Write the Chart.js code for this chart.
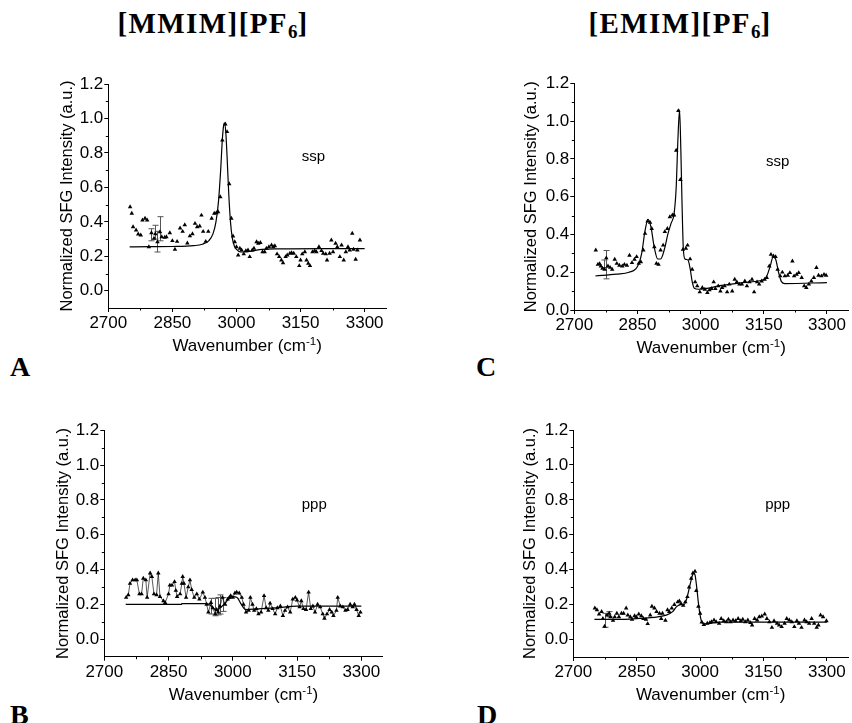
<!DOCTYPE html>
<html><head><meta charset="utf-8">
<script src="https://cdn.jsdelivr.net/npm/chart.js@4.4.1/dist/chart.umd.min.js"></script>
<style>
html,body{margin:0;padding:0;background:#fff;}
body{width:852px;height:723px;position:relative;overflow:hidden;}
canvas{position:absolute;}
.hd{position:absolute;font-family:"Liberation Serif","Times New Roman",serif;font-weight:bold;font-size:29px;letter-spacing:1.4px;color:#000;white-space:nowrap;line-height:1;text-align:center;}
.hd sub{font-size:19px;vertical-align:-5px;line-height:0;letter-spacing:0;}
.lt{position:absolute;font-family:"Liberation Serif","Times New Roman",serif;font-weight:bold;font-size:28px;line-height:1;color:#000;}
</style></head><body>
<div class="hd" style="left:0;width:426px;top:9px">[MMIM][PF<sub>6</sub>]</div>
<div class="hd" style="left:554px;width:252px;top:9px">[EMIM][PF<sub>6</sub>]</div>
<div class="lt" style="left:10px;top:353px">A</div>
<div class="lt" style="left:476px;top:353px">C</div>
<div class="lt" style="left:10px;top:701px">B</div>
<div class="lt" style="left:477px;top:701px">D</div>
<canvas id="cA" width="400" height="300" style="left:0;top:60px"></canvas>
<canvas id="cB" width="400" height="318" style="left:0;top:405px"></canvas>
<canvas id="cC" width="422" height="300" style="left:430px;top:60px"></canvas>
<canvas id="cD" width="422" height="318" style="left:430px;top:405px"></canvas>
<script>
// ---------- tick labels ----------
const X_TICKS = [2700, 2850, 3000, 3150, 3300];
const X_MINOR = [2775, 2925, 3075, 3225];
const Y_TICKS = [0.0, 0.2, 0.4, 0.6, 0.8, 1.0, 1.2];
const Y_MINOR = [-0.1, 0.1, 0.3, 0.5, 0.7, 0.9, 1.1];

// ---------- Panel A: [MMIM][PF6] ssp ----------
const A_X = [2751,2755,2758,2765,2770,2776,2780,2786,2791,2795,2801,2807,2810,2815,2821,2825,2832,2836,2844,2850,2856,2861,2868,2874,2879,2885,2891,2897,2903,2908,2914,2918,2922,2928,2934,2942,2948,2953,2957,2962,2967,2974,2978,2983,2988,2992,2996,3000,3004,3008,3012,3017,3022,3027,3031,3037,3041,3047,3051,3056,3061,3066,3070,3076,3082,3086,3090,3095,3100,3105,3109,3115,3119,3125,3129,3134,3140,3147,3150,3154,3160,3164,3168,3172,3178,3183,3187,3193,3199,3203,3209,3212,3218,3222,3226,3232,3236,3242,3246,3251,3256,3261,3265,3271,3274,3279,3283,3289];
const A_Y = [0.487,0.449,0.371,0.352,0.329,0.323,0.41,0.42,0.41,0.255,0.336,0.304,0.33,0.284,0.342,0.313,0.31,0.313,0.336,0.29,0.24,0.286,0.363,0.344,0.382,0.276,0.318,0.33,0.39,0.371,0.375,0.438,0.344,0.286,0.344,0.42,0.449,0.452,0.458,0.545,0.874,0.967,0.923,0.62,0.42,0.317,0.284,0.255,0.207,0.246,0.236,0.213,0.232,0.236,0.197,0.236,0.246,0.284,0.275,0.279,0.226,0.226,0.246,0.255,0.265,0.255,0.26,0.213,0.197,0.178,0.162,0.197,0.207,0.217,0.22,0.217,0.197,0.145,0.178,0.213,0.226,0.178,0.159,0.145,0.226,0.232,0.226,0.255,0.232,0.217,0.213,0.178,0.217,0.294,0.226,0.275,0.255,0.197,0.265,0.178,0.226,0.255,0.236,0.333,0.24,0.182,0.236,0.294];
const A_FIT_X = [2750,2800,2850,2900,2920,2935,2945,2952,2958,2963,2967,2970,2972,2975,2978,2982,2986,2990,2995,3000,3010,3020,3035,3060,3100,3200,3300];
const A_FIT_Y = [0.255,0.256,0.257,0.262,0.27,0.29,0.33,0.40,0.52,0.70,0.88,0.96,0.975,0.92,0.78,0.56,0.40,0.31,0.26,0.24,0.225,0.225,0.23,0.24,0.243,0.245,0.245];
const A_ERR_X = [2800, 2809, 2815, 2821];
const A_ERR_Y = [0.325, 0.34, 0.285, 0.36];
const A_ERR_E = [0.035, 0.04, 0.06, 0.07];

// ---------- Panel B: [MMIM][PF6] ppp ----------
const B_X = [2751,2756,2760,2766,2772,2776,2782,2787,2791,2797,2800,2807,2811,2816,2822,2826,2830,2838,2842,2850,2853,2858,2864,2867,2870,2877,2881,2883,2886,2891,2896,2900,2904,2910,2916,2922,2930,2935,2939,2943,2949,2953,2959,2962,2966,2970,2976,2982,2988,2992,2995,3000,3005,3009,3015,3021,3025,3031,3037,3041,3046,3050,3055,3060,3066,3073,3078,3083,3087,3093,3099,3104,3111,3117,3122,3128,3134,3140,3146,3150,3156,3160,3165,3171,3177,3182,3187,3192,3198,3204,3210,3214,3220,3226,3231,3235,3242,3245,3251,3257,3263,3268,3274,3280,3284,3289,3294,3298];
const B_Y = [0.24,0.255,0.32,0.34,0.34,0.34,0.26,0.26,0.35,0.34,0.24,0.38,0.36,0.26,0.255,0.38,0.245,0.22,0.21,0.26,0.31,0.31,0.33,0.28,0.245,0.26,0.32,0.36,0.32,0.24,0.30,0.34,0.285,0.24,0.26,0.23,0.27,0.24,0.20,0.155,0.21,0.18,0.145,0.17,0.155,0.19,0.24,0.20,0.23,0.24,0.25,0.24,0.265,0.27,0.265,0.24,0.20,0.155,0.165,0.24,0.20,0.165,0.175,0.145,0.155,0.25,0.18,0.165,0.207,0.175,0.145,0.18,0.19,0.135,0.165,0.185,0.155,0.23,0.24,0.225,0.185,0.22,0.175,0.17,0.27,0.175,0.19,0.155,0.20,0.185,0.145,0.12,0.145,0.17,0.155,0.135,0.165,0.24,0.19,0.185,0.165,0.17,0.20,0.185,0.20,0.17,0.135,0.155];
const B_FIT_X = [2750,2880,2881,2940,2950,2960,2975,2990,3000,3010,3020,3030,3060,3100,3150,3300];
const B_FIT_Y = [0.20,0.20,0.205,0.205,0.19,0.17,0.19,0.23,0.245,0.24,0.20,0.17,0.175,0.18,0.19,0.19];
const B_ERR_X = [2950, 2958, 2966, 2970, 2978];
const B_ERR_Y = [0.19, 0.185, 0.19, 0.20, 0.20];
const B_ERR_E = [0.045, 0.05, 0.05, 0.055, 0.04];

// ---------- Panel C: [EMIM][PF6] ssp ----------
const C_X = [2751,2756,2760,2763,2767,2772,2776,2780,2785,2790,2796,2801,2807,2814,2819,2825,2831,2837,2843,2848,2853,2858,2864,2868,2874,2880,2884,2890,2895,2900,2905,2911,2915,2921,2927,2933,2937,2942,2947,2952,2958,2965,2969,2975,2980,2987,2992,2998,3004,3010,3016,3021,3026,3031,3035,3042,3047,3051,3057,3063,3068,3075,3081,3086,3092,3098,3105,3110,3116,3122,3127,3134,3139,3145,3152,3157,3163,3167,3173,3178,3183,3189,3194,3200,3207,3212,3218,3222,3228,3233,3240,3246,3251,3257,3263,3269,3275,3280,3287,3293,3298];
const C_Y = [0.317,0.241,0.245,0.232,0.22,0.215,0.275,0.232,0.225,0.215,0.268,0.246,0.236,0.232,0.241,0.236,0.289,0.25,0.268,0.282,0.246,0.255,0.317,0.405,0.47,0.463,0.431,0.334,0.246,0.241,0.317,0.343,0.414,0.431,0.493,0.502,0.502,0.845,1.055,0.69,0.32,0.326,0.343,0.27,0.215,0.148,0.127,0.095,0.118,0.109,0.092,0.106,0.113,0.148,0.113,0.127,0.1,0.118,0.127,0.095,0.136,0.1,0.162,0.148,0.136,0.136,0.153,0.127,0.148,0.162,0.095,0.148,0.136,0.153,0.162,0.171,0.232,0.294,0.285,0.282,0.215,0.18,0.2,0.18,0.183,0.197,0.259,0.18,0.188,0.197,0.171,0.127,0.118,0.136,0.153,0.171,0.224,0.183,0.18,0.188,0.183];
const C_FIT_X = [2750,2800,2830,2850,2860,2868,2875,2882,2890,2898,2905,2915,2922,2930,2937,2942,2946,2950,2953,2956,2959,2963,2970,2975,2980,2985,2995,3050,3100,3140,3155,3165,3172,3178,3185,3192,3200,3300];
const C_FIT_Y = [0.18,0.19,0.20,0.23,0.30,0.42,0.48,0.44,0.33,0.27,0.27,0.33,0.40,0.46,0.51,0.65,0.90,1.06,0.85,0.55,0.32,0.27,0.265,0.22,0.15,0.115,0.11,0.13,0.145,0.155,0.17,0.23,0.28,0.27,0.20,0.15,0.14,0.145];
const C_ERR_X = [2770, 2776];
const C_ERR_Y = [0.245, 0.24];
const C_ERR_E = [0.02, 0.075];

// ---------- Panel D: [EMIM][PF6] ppp ----------
const D_X = [2751,2756,2761,2767,2770,2774,2780,2785,2788,2794,2798,2803,2808,2814,2819,2825,2829,2835,2839,2845,2849,2855,2861,2866,2872,2876,2882,2886,2892,2897,2904,2908,2911,2918,2923,2927,2933,2939,2947,2951,2955,2960,2965,2970,2974,2979,2983,2988,2991,2996,3000,3004,3009,3017,3023,3027,3033,3038,3045,3050,3056,3062,3067,3072,3078,3084,3090,3096,3101,3107,3113,3119,3123,3129,3135,3140,3146,3153,3158,3164,3170,3175,3182,3187,3193,3200,3205,3211,3217,3223,3229,3234,3240,3247,3252,3258,3264,3270,3276,3280,3285,3291,3299];
const D_Y = [0.18,0.17,0.145,0.16,0.12,0.075,0.14,0.15,0.13,0.11,0.13,0.15,0.13,0.15,0.15,0.18,0.14,0.13,0.115,0.135,0.13,0.145,0.135,0.12,0.115,0.09,0.14,0.19,0.18,0.16,0.15,0.12,0.15,0.11,0.17,0.16,0.18,0.20,0.215,0.22,0.205,0.195,0.215,0.245,0.30,0.35,0.38,0.39,0.28,0.19,0.15,0.10,0.085,0.092,0.096,0.101,0.111,0.101,0.092,0.12,0.107,0.101,0.115,0.101,0.111,0.107,0.12,0.107,0.115,0.101,0.111,0.096,0.082,0.12,0.111,0.13,0.134,0.145,0.12,0.101,0.069,0.107,0.092,0.082,0.073,0.092,0.12,0.111,0.101,0.073,0.107,0.092,0.069,0.111,0.101,0.092,0.12,0.092,0.069,0.082,0.14,0.13,0.107];
const D_FIT_X = [2750,2800,2850,2900,2920,2935,2945,2955,2962,2968,2975,2981,2985,2988,2992,2996,3000,3005,3010,3050,3150,3300];
const D_FIT_Y = [0.115,0.115,0.12,0.13,0.14,0.16,0.19,0.20,0.20,0.23,0.30,0.36,0.38,0.37,0.30,0.21,0.14,0.095,0.09,0.10,0.10,0.10];
const D_ERR_X = [2774, 2785];
const D_ERR_Y = [0.11, 0.145];
const D_ERR_E = [0.04, 0.015];

Chart.defaults.font.family = '"Liberation Sans", Arial, Helvetica, sans-serif';
Chart.defaults.color = '#000';

const extras = {
  id: 'extras',
  beforeDatasetsDraw(chart, args, o) {
    const {ctx, scales: {x, y}} = chart;
    ctx.save();
    ctx.strokeStyle = '#555';
    ctx.lineWidth = 1;
    ctx.beginPath();
    o.errX.forEach((v, i) => {
      const px = Math.round(x.getPixelForValue(v)) + 0.5;
      const top = y.getPixelForValue(o.errY[i] + o.errE[i]);
      const bot = y.getPixelForValue(o.errY[i] - o.errE[i]);
      ctx.moveTo(px, top); ctx.lineTo(px, bot);
      ctx.moveTo(px - 3, top); ctx.lineTo(px + 3, top);
      ctx.moveTo(px - 3, bot); ctx.lineTo(px + 3, bot);
    });
    ctx.stroke();
    ctx.restore();
  },
  afterDraw(chart, args, o) {
    const {ctx, chartArea: ca, scales: {x, y}} = chart;
    ctx.save();
    ctx.strokeStyle = '#000';
    ctx.lineWidth = 1;
    ctx.beginPath();
    X_MINOR.forEach(v => {
      const px = Math.round(x.getPixelForValue(v)) + 0.5;
      ctx.moveTo(px, ca.bottom); ctx.lineTo(px, ca.bottom + 2.5);
    });
    Y_MINOR.filter(v => v > y.min).forEach(v => {
      const py = Math.round(y.getPixelForValue(v)) + 0.5;
      ctx.moveTo(ca.left, py); ctx.lineTo(ca.left - 2.5, py);
    });
    ctx.stroke();
    // polarization label
    ctx.fillStyle = '#000';
    ctx.textBaseline = 'alphabetic';
    ctx.textAlign = 'left';
    ctx.font = '15px "Liberation Sans", Arial, sans-serif';
    ctx.fillText(o.label, x.getPixelForValue(o.labelAt[0]), y.getPixelForValue(o.labelAt[1]));
    // x-axis title with superscript
    const main = '17px "Liberation Sans", Arial, sans-serif';
    const sup = '11.5px "Liberation Sans", Arial, sans-serif';
    const t1 = 'Wavenumber (cm', t2 = '-1', t3 = ')';
    ctx.font = main; const w1 = ctx.measureText(t1).width, w3 = ctx.measureText(t3).width;
    ctx.font = sup; const w2 = ctx.measureText(t2).width;
    const total = w1 + w2 + w3;
    let cx = (ca.left + ca.right) / 2 - total / 2;
    const by = ca.bottom + 43;
    ctx.font = main; ctx.fillText(t1, cx, by); cx += w1;
    ctx.font = sup; ctx.fillText(t2, cx, by - 6); cx += w2;
    ctx.font = main; ctx.fillText(t3, cx, by);
    ctx.restore();
  }
};

function makeChart(id, p) {
  const axisCommon = {
    grid: {display: true, drawOnChartArea: false, drawTicks: true, tickLength: 4, color: '#000', lineWidth: 1},
    border: {display: true, color: '#000', width: 1}
  };
  return new Chart(document.getElementById(id), {
    type: 'scatter',
    data: {
      datasets: [
        {
          data: p.fitX.map((v, i) => ({x: v, y: p.fitY[i]})),
          showLine: true, borderColor: '#000', borderWidth: 1.2, pointRadius: 0,
          cubicInterpolationMode: 'monotone', order: 1
        },
        {
          data: p.x.map((v, i) => ({x: v, y: p.y[i]})),
          showLine: !!p.connect, borderColor: '#111', borderWidth: 0.7,
          pointStyle: 'triangle', pointRadius: 2.6, pointBackgroundColor: '#000',
          backgroundColor: '#000', pointBorderWidth: 0, order: 0
        }
      ]
    },
    options: {
      responsive: false, animation: false, devicePixelRatio: 1,
      layout: {padding: {left: 0, top: p.T, right: p.R, bottom: 0}},
      plugins: {
        legend: {display: false}, tooltip: {enabled: false},
        extras: {label: p.label, labelAt: p.labelAt, errX: p.errX, errY: p.errY, errE: p.errE}
      },
      scales: {
        x: Object.assign({
          type: 'linear', min: 2700, max: 3350,
          afterBuildTicks: s => { s.ticks = X_TICKS.map(v => ({value: v})); },
          afterFit: s => { s.height = p.XH; },
          ticks: {color: '#000', font: {size: 17}, padding: 1, maxRotation: 0, autoSkip: false,
                  callback: v => String(Math.round(v))}
        }, axisCommon),
        y: Object.assign({
          type: 'linear', min: p.ymin, max: 1.2,
          afterBuildTicks: s => { s.ticks = Y_TICKS.map(v => ({value: v})); },
          afterFit: s => { s.width = p.YW; },
          ticks: {color: '#000', font: {size: 17}, padding: 1, callback: v => Number(v).toFixed(1)},
          title: {display: true, text: 'Normalized SFG Intensity (a.u.)', color: '#000',
                  font: {size: 16.5}, padding: {top: p.TP, bottom: 0}}
        }, axisCommon)
      }
    },
    plugins: [extras]
  });
}

makeChart('cA', {x: A_X, y: A_Y, fitX: A_FIT_X, fitY: A_FIT_Y, errX: A_ERR_X, errY: A_ERR_Y, errE: A_ERR_E,
  label: 'ssp', labelAt: [3153, 0.752], ymin: -0.1, T: 24, R: 14, YW: 108.3, XH: 52, TP: 58});
makeChart('cB', {x: B_X, y: B_Y, fitX: B_FIT_X, fitY: B_FIT_Y, errX: B_ERR_X, errY: B_ERR_Y, errE: B_ERR_E,
  label: 'ppp', labelAt: [3161, 0.75], ymin: -0.1, T: 25.3, R: 17.3, YW: 104.3, XH: 66.3, TP: 54, connect: true});
makeChart('cC', {x: C_X, y: C_Y, fitX: C_FIT_X, fitY: C_FIT_Y, errX: C_ERR_X, errY: C_ERR_Y, errE: C_ERR_E,
  label: 'ssp', labelAt: [3155, 0.764], ymin: 0, T: 23.4, R: 1, YW: 144.3, XH: 50, TP: 92});
makeChart('cD', {x: D_X, y: D_Y, fitX: D_FIT_X, fitY: D_FIT_Y, errX: D_ERR_X, errY: D_ERR_Y, errE: D_ERR_E,
  label: 'ppp', labelAt: [3154, 0.75], ymin: -0.1, T: 25, R: 2, YW: 143.3, XH: 66, TP: 91});
</script>
</body></html>
